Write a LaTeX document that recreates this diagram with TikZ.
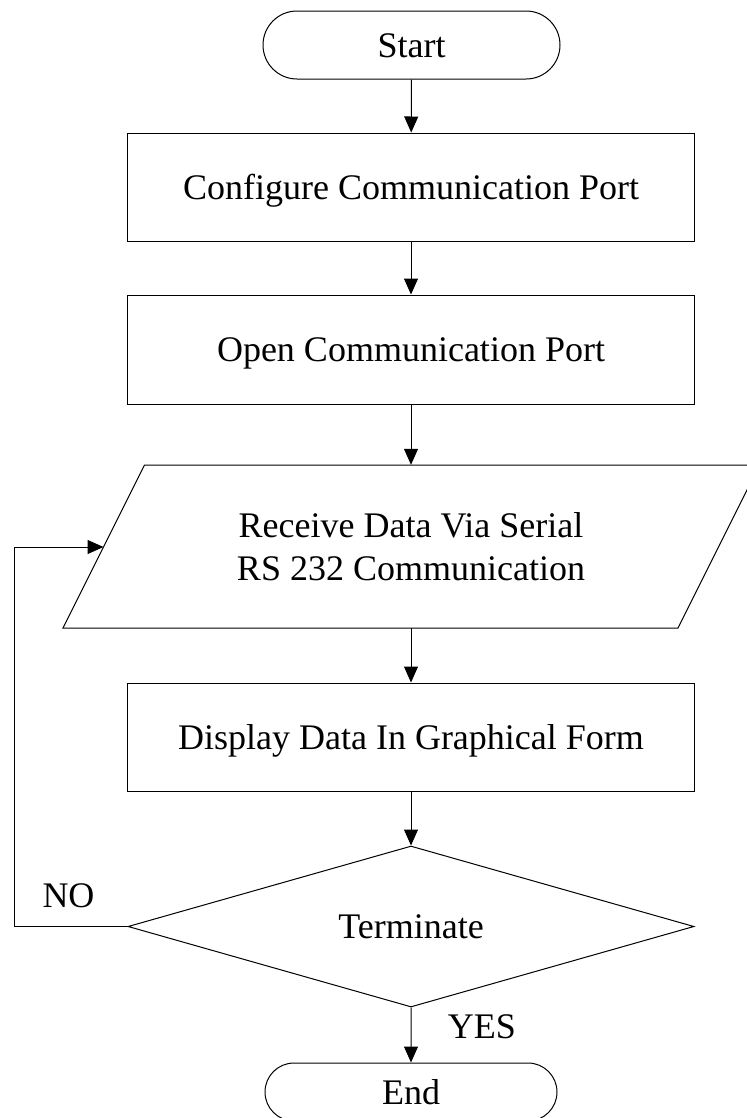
\documentclass[tikz,border=0pt]{standalone}
\usepackage{fontspec}
\setmainfont{Liberation Serif}
\usetikzlibrary{shapes.geometric,shapes.misc,arrows.meta}
\begin{document}
\begin{tikzpicture}[x=1bp,y=-1bp,
  every node/.style={font=\fontsize{36bp}{43bp}\selectfont},
  procbox/.style={draw,line width=1bp,rectangle,minimum width=566bp,inner sep=0pt,text height=24bp,text depth=0pt},
  terminal/.style={draw,line width=1bp,rounded rectangle,inner sep=0pt,text height=24bp,text depth=0pt},
  decision/.style={draw,line width=1bp,diamond,aspect=3.516,minimum width=566bp,minimum height=161bp,inner sep=0pt,text height=24bp,text depth=0pt},
  arr/.style={line width=1bp,-{Triangle[length=16bp,width=14bp]}},
  lbl/.style={inner sep=0pt,text height=24bp,text depth=0pt}]
\useasboundingbox (0,0) rectangle (747,1118);
\clip (0,0) rectangle (747,1118);
\node[terminal,minimum width=297bp,minimum height=68bp] (start) at (411.5,45) {Start};
\node[procbox,minimum height=108bp] (conf) at (411,187) {Configure Communication Port};
\node[procbox,minimum height=109bp] (open) at (411,349.5) {Open Communication Port};
\coordinate (pa) at (144.5,465);
\coordinate (pb) at (759.5,465);
\coordinate (pc) at (678,628);
\coordinate (pd) at (63,628);
\draw[line width=1bp] (pa) -- (pb) -- (pc) -- (pd) -- cycle;
\node[align=center,minimum height=163bp,inner sep=0pt] (recv) at (411,546.5) {Receive Data Via Serial\\RS 232 Communication};
\node[procbox,minimum height=108bp] (disp) at (411,737) {Display Data In Graphical Form};
\node[decision] (termn) at (411,926.5) {Terminate};
\node[terminal,minimum width=292bp,minimum height=58bp] (end) at (411,1092) {End};
\draw[arr] (start) -- (conf);
\draw[arr] (conf) -- (open);
\draw[arr] (open) -- (recv);
\draw[arr] (recv) -- (disp);
\draw[arr] (disp) -- (termn);
\draw[arr] (termn) -- (end);
\coordinate (la) at (14,926.5);
\coordinate (lb) at (14,547);
\coordinate (lin) at (103.5,547);
\draw[arr] (termn.west) -- (la) -- (lb) -- (lin);
\node[lbl] (no) at (68.5,895) {NO};
\node[lbl] (yes) at (482,1026.5) {YES};
\end{tikzpicture}
\end{document}
